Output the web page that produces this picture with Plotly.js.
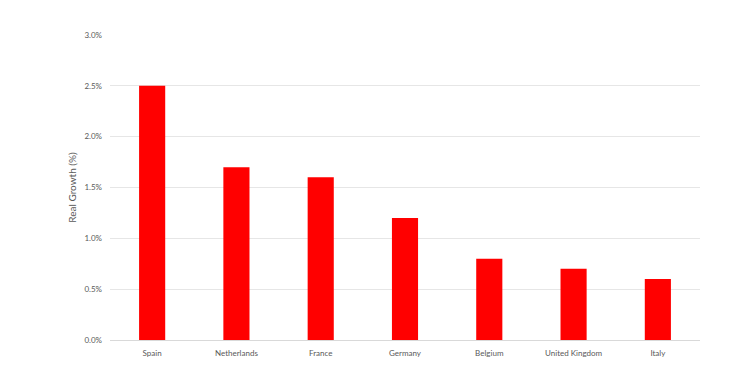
<!DOCTYPE html>
<html><head><meta charset="utf-8">
<script src="https://cdn.plot.ly/plotly-3.0.1.min.js"></script>
<style>html,body{margin:0;padding:0;background:#fff}</style>
</head><body>
<div id="chart" style="width:750px;height:375px"></div>
<script>
const countries = ["Spain","Netherlands","France","Germany","Belgium","United Kingdom","Italy"];
const growth = [2.5,1.7,1.6,1.2,0.8,0.7,0.6];
const yTicks = [0,0.5,1.0,1.5,2.0,2.5,3.0];
const yTickLabels = ["0.0%","0.5%","1.0%","1.5%","2.0%","2.5%","3.0%"];

Plotly.newPlot("chart",[{
  type:"bar", x:countries, y:growth,
  marker:{color:"#ff0000"}, hoverinfo:"x+y"
}],{
  width:750,height:375,
  margin:{l:110,r:50,t:35,b:35},
  paper_bgcolor:"#fff",plot_bgcolor:"#fff",
  bargap:0.69,
  font:{family:"Lato, Open Sans, sans-serif",color:"#595959",size:8},
  xaxis:{showgrid:false,showline:true,linecolor:"#d9d9d9",linewidth:1,ticks:"",ticklabelstandoff:5,tickfont:{size:8,color:"#595959"}},
  yaxis:{range:[0,3.0],tickvals:yTicks,ticktext:yTickLabels,showgrid:true,gridcolor:"#e6e6e6",gridwidth:1,zeroline:false,
    ticks:"",ticklen:0,ticklabelstandoff:7,tickfont:{size:8,color:"#595959"},
    title:{text:"Real Growth (%)",font:{size:10,color:"#595959"},standoff:5}},
  showlegend:false
},{displayModeBar:false});
</script>
</body></html>
